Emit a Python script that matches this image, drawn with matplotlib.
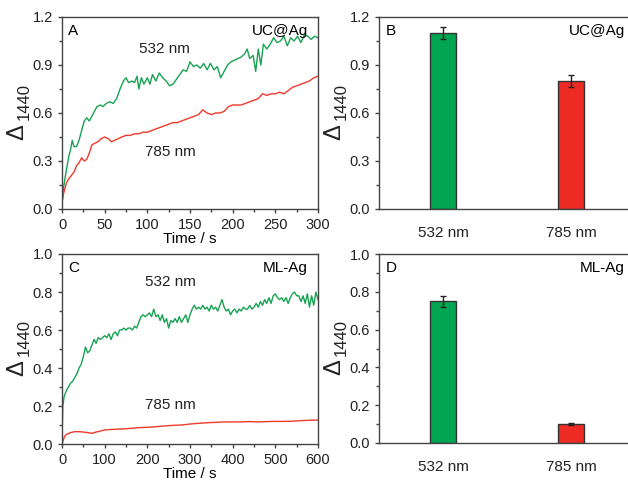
import numpy as np
import matplotlib
matplotlib.use("Agg")
import matplotlib.pyplot as plt
from matplotlib.ticker import MultipleLocator

plt.rcParams.update({
    "font.family": ["Liberation Sans", "DejaVu Sans"],
    "font.size": 10.5,
    "axes.linewidth": 1.0,
    "axes.edgecolor": "#444444",
    "xtick.color": "#444444",
    "ytick.color": "#444444",
    "xtick.labelcolor": "#222222",
    "ytick.labelcolor": "#222222",
})

GREEN_LINE = "#17a252"
RED_LINE = "#f0392b"
GREEN_BAR = "#00a651"
RED_BAR = "#ee2a24"

# panel A: UC@Ag kinetics (time in s)
t_a_532 = [0, 2, 5, 8, 10, 12, 14, 17, 20, 23, 26, 29, 32, 35, 38, 41, 45, 48, 52, 56,
           60, 64, 68, 72, 75, 78, 82, 85, 88, 90, 93, 96, 100, 103, 106, 110, 114, 118,
           122, 126, 130, 134, 138, 142, 146, 150, 154, 158, 162, 166, 170, 174, 178, 182,
           186, 190, 194, 198, 202, 206, 210, 214, 217, 220, 224, 227, 230, 233, 236, 240,
           244, 248, 252, 256, 260, 264, 268, 272, 276, 280, 284, 288, 292, 296, 300]
a_532 = [0.04, 0.14, 0.24, 0.33, 0.37, 0.43, 0.39, 0.39, 0.43, 0.49, 0.55, 0.57, 0.55, 0.58,
         0.61, 0.64, 0.65, 0.64, 0.66, 0.67, 0.66, 0.69, 0.75, 0.80, 0.82, 0.79, 0.80, 0.79,
         0.83, 0.75, 0.82, 0.78, 0.82, 0.78, 0.84, 0.80, 0.85, 0.82, 0.80, 0.77, 0.78, 0.81,
         0.84, 0.87, 0.86, 0.92, 0.89, 0.90, 0.88, 0.91, 0.87, 0.91, 0.87, 0.89, 0.82, 0.86,
         0.90, 0.92, 0.93, 0.94, 0.95, 0.97, 1.00, 0.94, 0.96, 0.86, 1.00, 0.90, 1.03, 1.00,
         1.03, 1.07, 1.04, 1.05, 1.08, 1.02, 1.07, 1.05, 1.08, 1.04, 1.09, 1.08, 1.06, 1.08, 1.07]

t_a_785 = [0, 2, 5, 8, 11, 14, 17, 20, 23, 26, 29, 32, 35, 38, 42, 46, 50, 54, 58, 62, 66,
           70, 75, 80, 85, 90, 95, 100, 105, 110, 115, 120, 125, 130, 135, 140, 145, 150,
           155, 160, 165, 170, 175, 180, 185, 190, 195, 200, 205, 210, 215, 220, 225, 230,
           235, 240, 245, 250, 255, 260, 265, 270, 275, 280, 285, 290, 295, 300]
a_785 = [0.04, 0.10, 0.16, 0.19, 0.21, 0.23, 0.27, 0.29, 0.32, 0.30, 0.31, 0.35, 0.40, 0.41,
         0.42, 0.44, 0.45, 0.44, 0.42, 0.43, 0.44, 0.45, 0.46, 0.46, 0.47, 0.47, 0.48, 0.48,
         0.49, 0.50, 0.51, 0.52, 0.53, 0.54, 0.54, 0.55, 0.56, 0.57, 0.58, 0.59, 0.62, 0.60,
         0.59, 0.60, 0.60, 0.61, 0.64, 0.65, 0.65, 0.65, 0.66, 0.67, 0.68, 0.69, 0.72, 0.71,
         0.72, 0.72, 0.73, 0.72, 0.74, 0.76, 0.77, 0.78, 0.79, 0.80, 0.82, 0.83]

# panel C: ML-Ag kinetics
t_c_532 = [0, 2] + list(range(5, 601, 5))
c_532 = [0.02, 0.20, 0.25, 0.28, 0.30, 0.32, 0.33, 0.35, 0.37, 0.40, 0.42, 0.46, 0.51, 0.48,
         0.49, 0.52, 0.55, 0.53, 0.56, 0.55, 0.56, 0.57, 0.56, 0.58, 0.55, 0.58, 0.59, 0.57,
         0.60, 0.60, 0.61, 0.60, 0.61, 0.61, 0.60, 0.62, 0.61, 0.64, 0.67, 0.68, 0.67, 0.68,
         0.69, 0.67, 0.71, 0.67, 0.68, 0.65, 0.68, 0.64, 0.66, 0.61, 0.65, 0.64, 0.66, 0.64,
         0.67, 0.64, 0.66, 0.68, 0.64, 0.68, 0.71, 0.73, 0.71, 0.72, 0.71, 0.73, 0.71, 0.72,
         0.70, 0.73, 0.71, 0.72, 0.70, 0.73, 0.76, 0.72, 0.70, 0.71, 0.68, 0.70, 0.71, 0.69,
         0.71, 0.70, 0.72, 0.71, 0.71, 0.73, 0.71, 0.72, 0.74, 0.72, 0.75, 0.73, 0.76, 0.74,
         0.77, 0.74, 0.78, 0.79, 0.77, 0.76, 0.77, 0.75, 0.77, 0.74, 0.77, 0.79, 0.80, 0.78,
         0.78, 0.75, 0.78, 0.74, 0.79, 0.72, 0.78, 0.73, 0.80, 0.76]

t_c_785 = [0, 3, 6, 10, 15, 20, 30, 40, 50, 60, 70, 80, 90, 100, 120, 140, 160, 180, 200,
           220, 240, 260, 280, 300, 320, 340, 360, 380, 400, 420, 440, 460, 480, 500, 520,
           540, 560, 580, 600]
c_785 = [0.00, 0.02, 0.04, 0.05, 0.055, 0.06, 0.065, 0.065, 0.063, 0.06, 0.056, 0.063, 0.068,
         0.074, 0.077, 0.079, 0.082, 0.086, 0.088, 0.091, 0.095, 0.098, 0.100, 0.105, 0.109,
         0.112, 0.114, 0.116, 0.116, 0.116, 0.118, 0.116, 0.118, 0.119, 0.119, 0.120, 0.123,
         0.125, 0.126]

# bar panels
bar_labels = ["532 nm", "785 nm"]
b_vals = [1.10, 0.80]
b_errs = [0.04, 0.04]
d_vals = [0.75, 0.10]
d_errs = [0.03, 0.004]

W, H = 628, 483
fig = plt.figure(figsize=(W / 100, H / 100), dpi=100)


def box(l, t, r, b):
    return [l / W, 1 - b / H, (r - l) / W, (b - t) / H]


axA = fig.add_axes(box(62, 17, 318, 209))
axB = fig.add_axes(box(379, 17, 635, 209))
axC = fig.add_axes(box(62, 254, 318, 444))
axD = fig.add_axes(box(379, 254, 635, 443))


def ylabel(ax):
    ax.annotate("\u0394", xy=(0, 0.40), xycoords="axes fraction", xytext=(-45, 0),
                textcoords="offset pixels", rotation=90, fontsize=17,
                ha="center", va="center", color="#222222")
    ax.annotate("1440", xy=(0, 0.56), xycoords="axes fraction", xytext=(-38, 0),
                textcoords="offset pixels", rotation=90, fontsize=12,
                ha="center", va="center", color="#222222")


def style(ax):
    ax.tick_params(which="major", direction="out", length=3, width=1)
    ax.tick_params(which="minor", direction="out", length=2, width=1)


# A
axA.plot(t_a_532, a_532, color=GREEN_LINE, lw=1)
axA.plot(t_a_785, a_785, color=RED_LINE, lw=1)
axA.set_xlim(0, 300)
axA.set_ylim(0, 1.2)
axA.xaxis.set_major_locator(MultipleLocator(50))
axA.xaxis.set_minor_locator(MultipleLocator(25))
axA.yaxis.set_major_locator(MultipleLocator(0.3))
axA.yaxis.set_minor_locator(MultipleLocator(0.15))
axA.yaxis.set_major_formatter(lambda v, p: f"{v:.1f}")
axA.set_xlabel("Time / s", fontsize=11, labelpad=0)
axA.text(120, 1.0, "532 nm", ha="center", va="center", fontsize=11, color="#222222")
axA.text(127, 0.356, "785 nm", ha="center", va="center", fontsize=11, color="#222222")
axA.text(0.025, 0.925, "A", transform=axA.transAxes, ha="left", va="center", fontsize=11)
axA.text(0.96, 0.925, "UC@Ag", transform=axA.transAxes, ha="right", va="center", fontsize=11)
style(axA)
ylabel(axA)

# C
axC.plot(t_c_532, c_532, color=GREEN_LINE, lw=1)
axC.plot(t_c_785, c_785, color=RED_LINE, lw=1)
axC.set_xlim(0, 600)
axC.set_ylim(0, 1.0)
axC.xaxis.set_major_locator(MultipleLocator(100))
axC.xaxis.set_minor_locator(MultipleLocator(50))
axC.yaxis.set_major_locator(MultipleLocator(0.2))
axC.yaxis.set_minor_locator(MultipleLocator(0.1))
axC.yaxis.set_major_formatter(lambda v, p: f"{v:.1f}")
axC.set_xlabel("Time / s", fontsize=11, labelpad=0)
axC.text(253, 0.853, "532 nm", ha="center", va="center", fontsize=11, color="#222222")
axC.text(253, 0.205, "785 nm", ha="center", va="center", fontsize=11, color="#222222")
axC.text(0.025, 0.925, "C", transform=axC.transAxes, ha="left", va="center", fontsize=11)
axC.text(0.96, 0.925, "ML-Ag", transform=axC.transAxes, ha="right", va="center", fontsize=11)
style(axC)
ylabel(axC)


def bars(ax, vals, errs, ymax, step, letter, name):
    x = np.arange(len(vals))
    ax.bar(x, vals, width=0.2, color=[GREEN_BAR, RED_BAR], edgecolor="#333333", lw=1,
           yerr=errs, capsize=2, error_kw=dict(elinewidth=1, capthick=1, ecolor="#222222"))
    ax.set_xlim(-0.5, 1.5)
    ax.set_ylim(0, ymax)
    ax.set_xticks(x, bar_labels, fontsize=11)
    ax.tick_params(axis="x", length=0, pad=12)
    ax.yaxis.set_major_locator(MultipleLocator(step))
    ax.yaxis.set_minor_locator(MultipleLocator(step / 2))
    ax.yaxis.set_major_formatter(lambda v, p: f"{v:.1f}")
    ax.tick_params(axis="y", which="major", direction="out", length=3, width=1)
    ax.tick_params(axis="y", which="minor", direction="out", length=2, width=1)
    ax.text(0.025, 0.925, letter, transform=ax.transAxes, ha="left", va="center", fontsize=11)
    ax.text(0.96, 0.925, name, transform=ax.transAxes, ha="right", va="center", fontsize=11)
    ylabel(ax)


bars(axB, b_vals, b_errs, 1.2, 0.3, "B", "UC@Ag")
bars(axD, d_vals, d_errs, 1.0, 0.2, "D", "ML-Ag")

fig.savefig("out.png", dpi=100)
